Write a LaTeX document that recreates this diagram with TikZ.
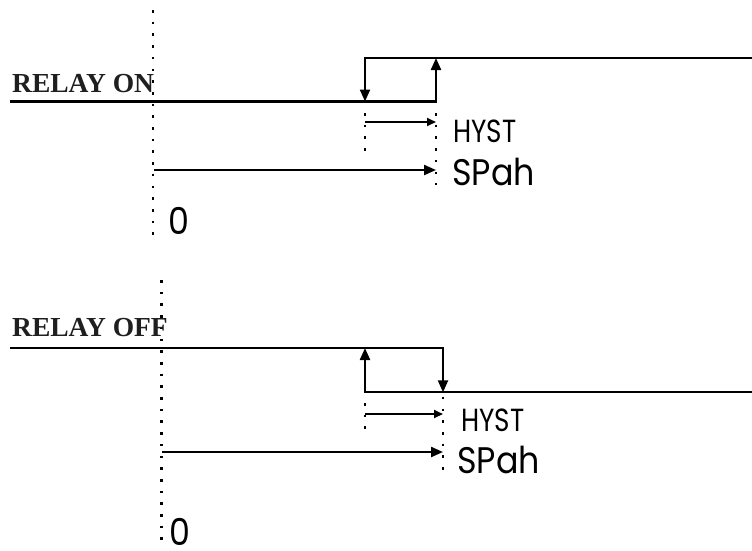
\documentclass[tikz,border=0pt]{standalone}
\usepackage{fontspec}
\setmainfont{Liberation Serif}
\newfontfamily\gothfont[FakeStretch=0.82]{Poppins}
\newfontfamily\widegoth[FakeStretch=0.9]{Poppins}
\usetikzlibrary{arrows.meta}
\begin{document}
\begin{tikzpicture}[x=1pt, y=-1pt, line join=miter,
  >={Triangle[length=12pt,width=10pt]},
  wire/.style={line width=2.2pt},
  small/.style={line width=1.8pt, -{Triangle[length=9pt,width=8pt]}},
  guide/.style={line width=2.6pt, dash pattern=on 2.6pt off 9.1pt},
  relay/.style={font=\fontsize{27.5}{30}\selectfont\bfseries, inner sep=0pt, text=black!88},
  hyst/.style={font=\gothfont\fontsize{32}{34}\selectfont, inner sep=0pt, anchor=west},
  spah/.style={font=\widegoth\fontsize{37}{39}\selectfont, inner sep=0pt, anchor=west}]
\useasboundingbox (0,0) rectangle (752,550);
% relay on
\coordinate (ax1t) at (153,10);
\coordinate (ax1b) at (153,242);
\coordinate (lo1l) at (10,101.5);
\coordinate (lo1r) at (436,101.5);
\coordinate (hi1l) at (365,58);
\coordinate (hi1r) at (752,58);
\coordinate (hy1a) at (365,122);
\coordinate (sp1a) at (154,170);
\draw[guide] (ax1t) -- (ax1b);
\draw[guide] (365,113) -- (365,157);
\draw[guide] (436,113) -- (436,185);
\node[relay, anchor=base west] (lblon) at (12,92) {RELAY ON};
\draw[wire,->] (lo1l) -- (lo1r) -- (lo1r |- hi1l);
\draw[wire,->] (hi1r) -- (hi1l) -- (hi1l |- lo1l);
\node[hyst] (hyst1) at (453,131) {HYST};
\node[spah] (spah1) at (452,171.5) {SPah};
\node[spah, anchor=center] (zero1) at (178.5,220.5) {0};
\draw[small] (hy1a) -- (hy1a -| lo1r);
\draw[wire,->] (sp1a) -- (sp1a -| lo1r);
% relay off
\coordinate (ax2t) at (161.5,280);
\coordinate (ax2b) at (161.5,548);
\coordinate (hi2l) at (10,348);
\coordinate (hi2r) at (443,348);
\coordinate (lo2l) at (365,392.3);
\coordinate (lo2r) at (752,392.3);
\coordinate (hy2a) at (365,414);
\coordinate (sp2a) at (162,452);
\draw[guide] (ax2t) -- (ax2b);
\draw[guide] (365,403) -- (365,432);
\draw[guide] (443,350) -- (443,476);
\node[relay, anchor=base west] (lbloff) at (12,336) {RELAY OFF};
\draw[wire,->] (hi2l) -- (hi2r) -- (hi2r |- lo2l);
\draw[wire,->] (lo2r) -- (lo2l) -- (lo2l |- hi2l);
\node[hyst] (hyst2) at (461,420) {HYST};
\node[spah] (spah2) at (457,460) {SPah};
\node[spah, anchor=center] (zero2) at (179.5,531.5) {0};
\draw[small] (hy2a) -- (hy2a -| hi2r);
\draw[wire,->] (sp2a) -- (sp2a -| hi2r);
\end{tikzpicture}
\end{document}
